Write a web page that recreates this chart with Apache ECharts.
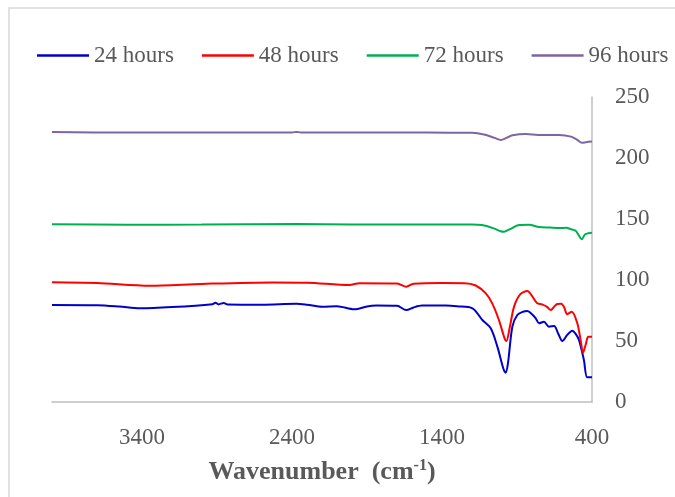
<!DOCTYPE html>
<html><head><meta charset="utf-8">
<script src="https://cdn.jsdelivr.net/npm/echarts@6/dist/echarts.min.js"></script>
<style>html,body{margin:0;padding:0;background:#fff}#c{width:675px;height:497px}</style>
</head><body><div id="c"></div>
<script>
const seriesNames = ['24 hours', '48 hours', '72 hours', '96 hours'];
const xTicks = [400, 1400, 2400, 3400];
// [wavenumber, value]
const h24 = [[4000,79.5],[3700,79.3],[3550,78.2],[3414,76.8],[3200,77.8],[2930,80.2],[2910,81.4],[2890,80],[2856,81.2],[2830,80],[2600,79.8],[2370,80.6],[2300,79.8],[2197,78.1],[2100,78.5],[1984,76],[1900,78.3],[1838,79],[1700,78.8],[1638,75.4],[1590,77.5],[1532,79],[1372,79],[1300,78.4],[1197,76.8],[1131,67.2],[1075,60.4],[1030,45],[990,27],[975,24],[960,32],[931,61.7],[898,71.3],[860,74],[831,74.6],[800,72],[775,68.6],[753,64.5],[720,65.8],[687,61.7],[653,62.3],[625,56],[598,50],[565,55],[532,58.5],[510,56],[487,50.8],[454,34.4],[432,20.2],[400,20.2]];
const h48 = [[4000,98.1],[3700,97.5],[3348,95.3],[3000,96.8],[2530,98],[2300,97.8],[2017,95.9],[1950,97.4],[1700,97.2],[1638,94.5],[1590,97],[1400,97.5],[1250,97.4],[1175,95.5],[1108,89],[1066,81],[1020,67],[985,53],[971,50],[950,60],[920,78],[880,88],[831,91],[800,87],[765,80.9],[733,80],[700,78],[675,75.4],[650,78.5],[631,80.3],[605,80.5],[587,78],[565,72],[535,74],[498,64.5],[475,50],[460,40.4],[440,48],[425,53.5],[400,53.5]];
const h72 = [[4000,145.6],[3500,145.3],[3000,145.4],[2370,145.9],[2000,145.5],[1500,145.5],[1200,145.5],[1133,145],[1060,142.5],[1010,140],[986,139.6],[950,141.5],[886,145],[820,145.3],[753,143.4],[680,143],[620,142.6],[570,142.8],[545,141.8],[510,140.5],[490,137],[469,133.3],[445,137.5],[400,138.8]];
const h96 = [[4000,221.4],[3500,220.8],[3000,220.9],[2400,221],[2370,221.4],[2340,221],[1800,220.9],[1500,220.8],[1200,220.7],[1120,219.3],[1050,216.5],[1008,214.8],[970,216.5],[930,218.6],[840,219.7],[760,218.9],[620,218.8],[540,217.5],[500,215],[467,212.5],[440,213],[400,213.5]];

const colors = ['#0000cc', '#ff0000', '#00b050', '#8064a2'];
const dataSets = [h24, h48, h72, h96];
const font = '"Liberation Serif", "Times New Roman", serif';
const chart = echarts.init(document.getElementById('c'), null, {renderer: 'canvas'});
chart.setOption({
  animation: false,
  backgroundColor: '#fff',
  graphic: [
    {type: 'polyline', shape: {points: [[9, 497], [9, 8], [675, 8]]}, style: {stroke: '#d9d9d9', lineWidth: 1.5, fill: null}}
  ],
  legend: {
    left: 32, top: 39,
    icon: 'rect', itemWidth: 52, itemHeight: 2.5, itemGap: 28,
    textStyle: {fontFamily: font, fontSize: 23, color: '#595959'},
    data: seriesNames
  },
  grid: {left: 52, right: 83, top: 97, bottom: 95},
  xAxis: {
    type: 'value', min: 400, max: 4000, interval: 1000, inverse: true,
    axisLine: {show: true, onZero: false, lineStyle: {color: '#bfbfbf', width: 1.5}},
    axisTick: {show: false}, splitLine: {show: false},
    axisLabel: {
      margin: 24, fontFamily: font, fontSize: 23, color: '#595959',
      formatter: v => xTicks.includes(v) ? String(v) : ''
    },
    name: '{a|Wavenumber  (cm}{s|-1}{a|)}',
    nameLocation: 'middle', nameGap: 56,
    nameTextStyle: {
      rich: {
        a: {fontFamily: font, fontSize: 26, fontWeight: 'bold', color: '#595959'},
        s: {fontFamily: font, fontSize: 16, fontWeight: 'bold', color: '#595959', verticalAlign: 'top', padding: [0, 0, 12, 0]}
      }
    }
  },
  yAxis: {
    type: 'value', position: 'right', min: 0, max: 250, interval: 50,
    axisLine: {show: true, lineStyle: {color: '#bfbfbf', width: 1.5}},
    axisTick: {show: false}, splitLine: {show: false},
    axisLabel: {margin: 23, align: 'left', fontFamily: font, fontSize: 23, color: '#595959'}
  },
  series: seriesNames.map((n, i) => ({
    name: n, type: 'line', data: dataSets[i], symbol: 'none', smooth: 0.3,
    lineStyle: {color: colors[i], width: 2}, itemStyle: {color: colors[i]}
  }))
});
</script></body></html>
